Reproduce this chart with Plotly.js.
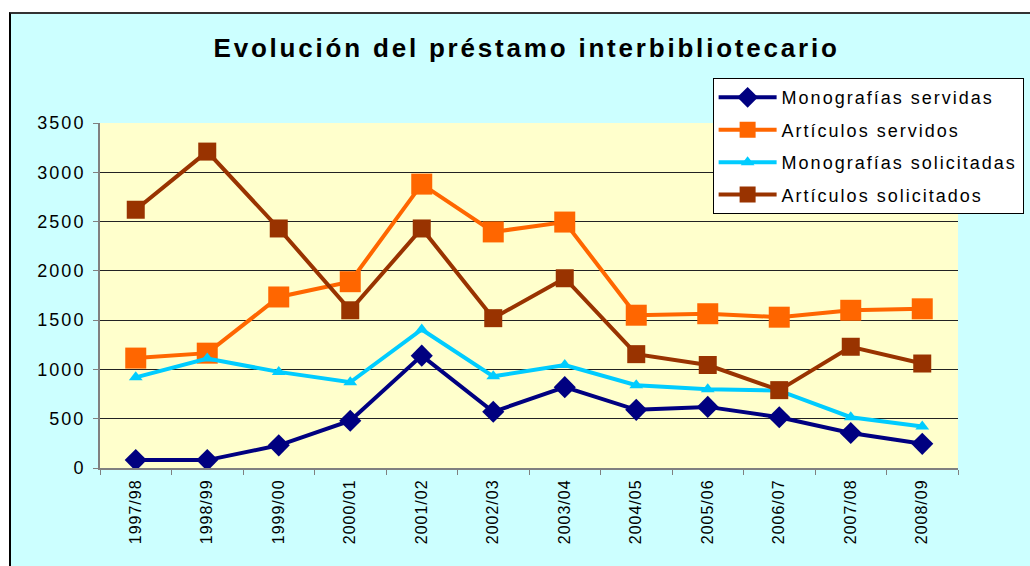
<!DOCTYPE html>
<html>
<head>
<meta charset="utf-8">
<script src="https://cdn.plot.ly/plotly-3.0.1.min.js"></script>
<style>
  html, body { margin: 0; padding: 0; background: #ffffff; width: 1030px; height: 566px; overflow: hidden; }
  #frame { position: absolute; left: 9px; top: 12px; width: 1021px; height: 554px;
           border-top: 2px solid #333; border-left: 2px solid #000; box-sizing: border-box; }
  #chart { width: 1019px; height: 552px; }
  /* the original Excel text is rendered wide */
  .gtitle { letter-spacing: 2.8px; }
  .legendtext { letter-spacing: 2px; }
  .ytick text { letter-spacing: 2px; }
  .xtick text { letter-spacing: 1px; }
</style>
</head>
<body>
<div id="frame"><div id="chart"></div></div>
<script>
// Categories (academic years)
const years = ['1997/98', '1998/99', '1999/00', '2000/01', '2001/02', '2002/03',
               '2003/04', '2004/05', '2005/06', '2006/07', '2007/08', '2008/09'];

// Series values
const monografiasServidas   = [80, 80, 230, 480, 1140, 570, 820, 590, 620, 515, 355, 245];
const articulosServidos     = [1115, 1165, 1735, 1890, 2880, 2395, 2495, 1550, 1565, 1530, 1600, 1615];
const monografiasSolicitadas = [920, 1110, 975, 870, 1405, 930, 1045, 840, 800, 785, 515, 420];
const articulosSolicitados  = [2620, 3210, 2430, 1600, 2430, 1520, 1925, 1155, 1045, 790, 1230, 1060];

const font = 'Arial, "Liberation Sans", sans-serif';

function series(name, values, color, symbol, size) {
  return {
    x: years, y: values, name: name, legendgroup: name,
    type: 'scatter', mode: 'lines+markers',
    line: { color: color, width: 4 },
    marker: { color: color, symbol: symbol, size: size }
  };
}

const data = [
  series('Monografías servidas', monografiasServidas, '#000080', 'diamond', 17),
  series('Artículos servidos', articulosServidos, '#FF6600', 'square', 21),
  series('Monografías solicitadas', monografiasSolicitadas, '#00CCFF', 'triangle-up', 12),
  series('Artículos solicitados', articulosSolicitados, '#993300', 'square', 18)
];

const layout = {
  width: 1019, height: 552,
  paper_bgcolor: '#CCFFFF',
  plot_bgcolor: '#FFFFCC',
  margin: { l: 89, r: 72, t: 109, b: 98, autoexpand: false },
  font: { family: font, color: '#000' },
  title: {
    text: '<b>Evolución del préstamo interbibliotecario</b>',
    font: { family: font, size: 26, color: '#000' },
    x: 0.506, xanchor: 'center', xref: 'container',
    y: 0.938, yanchor: 'middle', yref: 'container'
  },
  xaxis: {
    type: 'category',
    range: [-0.5, years.length - 0.5],
    tickangle: -90,
    tickfont: { family: font, size: 16 },
    ticks: 'outside', ticklen: 5, tickcolor: '#808080',
    tickson: 'boundaries',
    ticklabelstandoff: 3,
    showline: true, linecolor: '#808080', linewidth: 2,
    showgrid: false, zeroline: false
  },
  yaxis: {
    range: [0, 3500], dtick: 500,
    tickfont: { family: font, size: 18 },
    ticks: 'outside', ticklen: 5, tickcolor: '#808080',
    ticklabelstandoff: 4,
    showline: true, linecolor: '#808080', linewidth: 2,
    showgrid: true, gridcolor: '#222', gridwidth: 1,
    zeroline: false
  },
  legend: {
    x: 0.714, y: 1.13, xanchor: 'left', yanchor: 'top',
    bgcolor: '#ffffff', bordercolor: '#000', borderwidth: 1,
    font: { family: font, size: 18, color: '#000' },
    tracegroupgap: 6,
    itemwidth: 58
  },
  showlegend: true
};

Plotly.newPlot('chart', data, layout, { displayModeBar: false, staticPlot: true });
</script>
</body>
</html>
